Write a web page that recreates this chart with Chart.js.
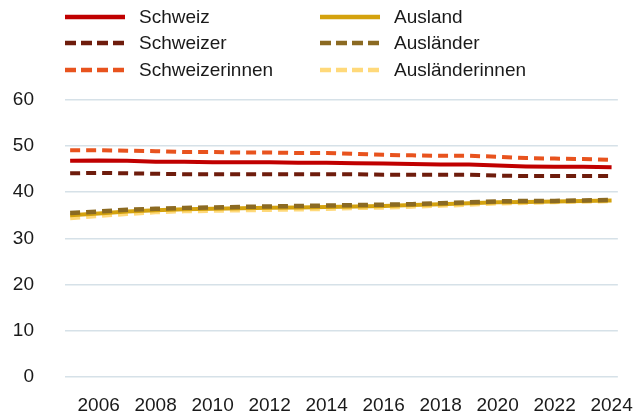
<!DOCTYPE html>
<html>
<head>
<meta charset="utf-8">
<script src="https://cdn.jsdelivr.net/npm/chart.js@4/dist/chart.umd.min.js"></script>
<style>
  html, body { margin: 0; padding: 0; background: #fff; }
  #wrap { width: 643px; height: 419px; position: relative; }
</style>
</head>
<body>
<div id="wrap"><canvas id="lineChart" width="643" height="419"></canvas></div>
<script>
// Daten
const years = [2005, 2006, 2007, 2008, 2009, 2010, 2011, 2012, 2013, 2014,
               2015, 2016, 2017, 2018, 2019, 2020, 2021, 2022, 2023, 2024];
const schweiz = [46.8, 46.9, 46.8, 46.6, 46.6, 46.5, 46.5, 46.5, 46.4, 46.4,
                 46.3, 46.2, 46.1, 46.0, 46.0, 45.8, 45.6, 45.5, 45.5, 45.4];
const schweizer = [44.1, 44.2, 44.1, 44.0, 43.9, 43.9, 43.9, 43.9, 43.9, 43.9,
                   43.9, 43.8, 43.8, 43.8, 43.8, 43.6, 43.5, 43.5, 43.5, 43.5];
const schweizerinnen = [49.1, 49.1, 49.0, 48.9, 48.7, 48.7, 48.6, 48.6, 48.5, 48.5,
                        48.3, 48.1, 48.0, 47.9, 47.9, 47.7, 47.4, 47.3, 47.2, 47.0];
const ausland = [35.0, 35.4, 35.8, 36.1, 36.3, 36.4, 36.5, 36.6, 36.7, 36.8,
                 36.9, 37.0, 37.2, 37.4, 37.6, 37.8, 37.9, 38.0, 38.1, 38.2];
const auslaender = [35.5, 35.8, 36.2, 36.4, 36.6, 36.7, 36.8, 36.9, 37.0, 37.1,
                    37.2, 37.3, 37.4, 37.6, 37.8, 38.0, 38.1, 38.1, 38.2, 38.3];
const auslaenderinnen = [34.4, 34.9, 35.3, 35.7, 35.9, 36.0, 36.1, 36.2, 36.3, 36.4,
                         36.6, 36.7, 36.9, 37.1, 37.3, 37.6, 37.7, 37.9, 38.0, 38.1];
const yTicks = [0, 10, 20, 30, 40, 50, 60];

const FONT = '"Liberation Sans", Arial, sans-serif';
const toPoints = arr => arr.map((v, i) => ({ x: years[i], y: v }));

// Legende in zwei Spalten, direkt auf den Canvas gezeichnet
const legendPlugin = {
    id: 'twoColLegend',
    afterDraw(chart) {
        const ctx = chart.ctx;
        const colX = [65, 320];
        const rowY = [17, 43, 70];
        chart.data.datasets.forEach((ds, i) => {
            const x0 = colX[Math.floor(i / 3)];
            const y = rowY[i % 3];
            ctx.save();
            ctx.strokeStyle = ds.borderColor;
            ctx.lineWidth = 4.5;
            ctx.setLineDash(ds.borderDash ? [11, 5] : []);
            ctx.beginPath();
            ctx.moveTo(x0, y);
            ctx.lineTo(x0 + 60, y);
            ctx.stroke();
            ctx.setLineDash([]);
            ctx.fillStyle = '#1a1a1a';
            ctx.font = '19px ' + FONT;
            ctx.textBaseline = 'middle';
            ctx.fillText(ds.label, x0 + 74, y + 1);
            ctx.restore();
        });
    }
};

const ctx = document.getElementById('lineChart').getContext('2d');

new Chart(ctx, {
    type: 'line',
    data: {
        datasets: [
            { label: 'Schweiz', data: toPoints(schweiz), borderColor: '#c00000', borderWidth: 4, order: 2 },
            { label: 'Schweizer', data: toPoints(schweizer), borderColor: '#6e1c0c', borderWidth: 4, borderDash: [10, 6], order: 2 },
            { label: 'Schweizerinnen', data: toPoints(schweizerinnen), borderColor: '#e8531e', borderWidth: 4, borderDash: [10, 6], order: 2 },
            { label: 'Ausland', data: toPoints(ausland), borderColor: '#d4a20e', borderWidth: 4, order: 2 },
            { label: 'Ausländer', data: toPoints(auslaender), borderColor: '#8b6a22', borderWidth: 4.5, borderDash: [10, 6], order: 1 },
            { label: 'Ausländerinnen', data: toPoints(auslaenderinnen), borderColor: '#ffd97a', borderWidth: 4.5, borderDash: [10, 6], order: 3 }
        ]
    },
    options: {
        responsive: false,
        animation: false,
        layout: { padding: { top: 100, left: 12, right: 25, bottom: 3 } },
        elements: {
            point: { radius: 0 },
            line: { tension: 0, borderCapStyle: 'butt' }
        },
        plugins: {
            legend: { display: false },
            tooltip: { enabled: false }
        },
        scales: {
            x: {
                type: 'linear',
                min: 2004.82,
                max: 2024.22,
                grid: { display: false },
                border: { display: false },
                afterFit: axis => { axis.height = 38; },
                ticks: {
                    stepSize: 2,
                    includeBounds: false,
                    padding: 10,
                    color: '#1a1a1a',
                    font: { size: 19, family: FONT },
                    callback: v => (Number.isInteger(v) && v % 2 === 0) ? String(v) : null,
                    maxRotation: 0
                }
            },
            y: {
                min: 0,
                max: 60,
                afterBuildTicks: axis => { axis.ticks = yTicks.map(v => ({ value: v })); },
                afterFit: axis => { axis.width = 53; },
                grid: { color: '#d6e1e8', lineWidth: 1.5, drawTicks: false },
                border: { display: false },
                ticks: {
                    padding: 31,
                    color: '#1a1a1a',
                    font: { size: 19, family: FONT }
                }
            }
        }
    },
    plugins: [legendPlugin]
});
</script>
</body>
</html>
